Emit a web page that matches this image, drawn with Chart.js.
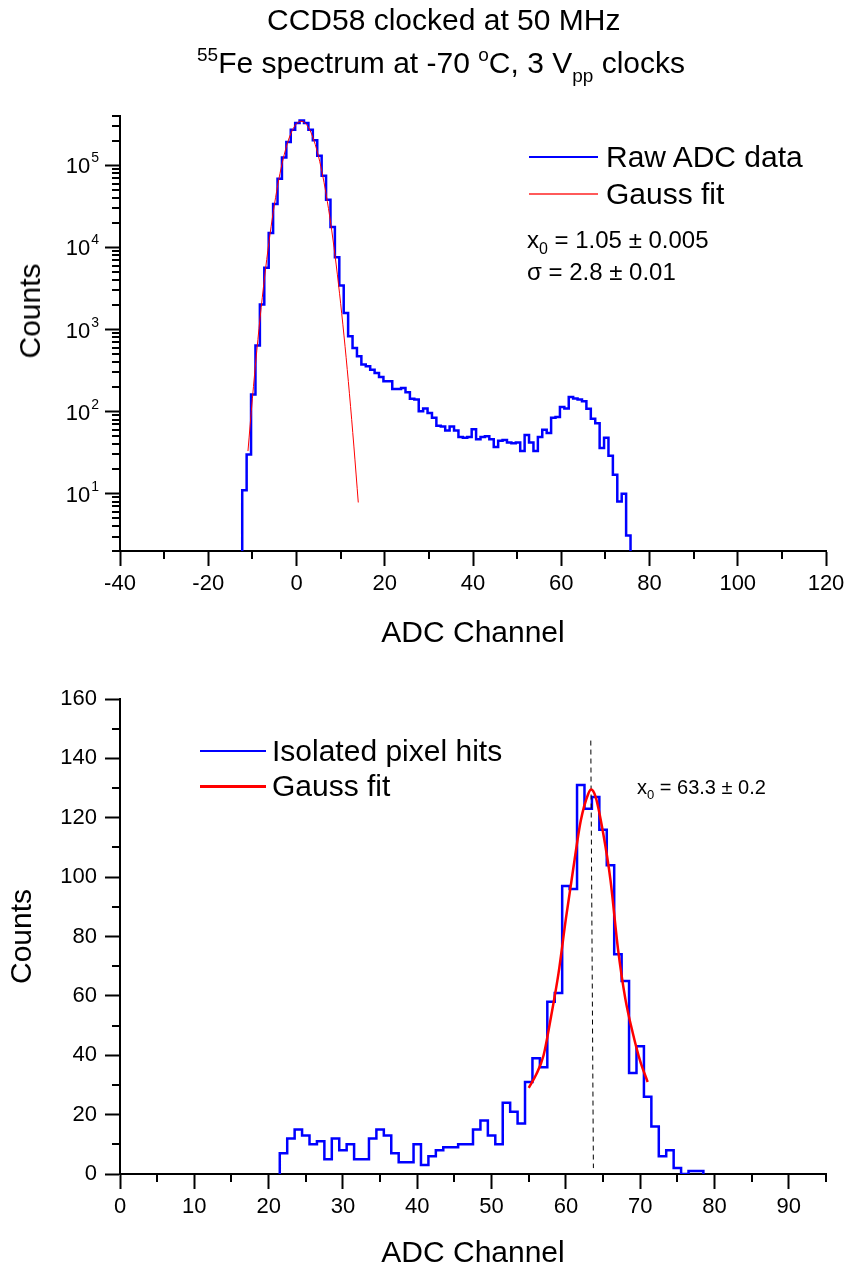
<!DOCTYPE html>
<html>
<head>
<meta charset="utf-8">
<script src="https://cdn.jsdelivr.net/npm/chart.js@4.4.1/dist/chart.umd.min.js"></script>
<style>
  body { margin: 0; background: #fff; }
  #wrap { position: relative; width: 851px; height: 1274px; background: #fff; overflow: hidden; }
  canvas { position: absolute; left: 0; }
  .t { position: absolute; white-space: nowrap; line-height: 1; color: #000;
       font-family: 'Liberation Sans', Arial, Helvetica, sans-serif; }
  .up { position: relative; }
  .ln { position: absolute; }
  .pin { position: absolute; width: 0; height: 0; }
  .rot { left: 0; top: 0; transform: translate(-50%, -50%) rotate(-90deg); }
</style>
</head>
<body>
<div id="wrap">
  <canvas id="topChart" width="851" height="660" style="top:0"></canvas>
  <canvas id="bottomChart" width="851" height="614" style="top:660px"></canvas>

  <div class="t" style="left:267px;top:5px;font-size:30px">CCD58 clocked at 50 MHz</div>
  <div class="t" style="left:197px;top:48px;font-size:30px"><span class="up" style="font-size:19px;top:-12px">55</span>Fe spectrum at -70 <span class="up" style="font-size:19px;top:-12px">o</span>C, 3 V<span class="up" style="font-size:19px;top:9px">pp</span> clocks</div>

  <div class="pin" style="left:30px;top:311px"><div class="t rot" style="font-size:30px">Counts</div></div>

  <div class="ln" style="left:529px;top:156px;width:69px;height:2px;background:#0000ff"></div>
  <div class="t" style="left:606px;top:142px;font-size:30px">Raw ADC data</div>
  <div class="ln" style="left:529px;top:193px;width:69px;height:2px;background:#ff5a5a"></div>
  <div class="t" style="left:606px;top:179px;font-size:30px">Gauss fit</div>
  <div class="t" style="left:527px;top:228px;font-size:24px">x<span class="up" style="font-size:16px;top:6px">0</span> = 1.05 ± 0.005</div>
  <div class="t" style="left:527px;top:260px;font-size:24px">σ = 2.8 ± 0.01</div>

  <div class="ln" style="left:200px;top:750px;width:66px;height:2px;background:#0000ff"></div>
  <div class="t" style="left:272px;top:736px;font-size:30px">Isolated pixel hits</div>
  <div class="ln" style="left:200px;top:785px;width:66px;height:3px;background:#ff0000"></div>
  <div class="t" style="left:272px;top:771px;font-size:30px">Gauss fit</div>
  <div class="t" style="left:637px;top:777px;font-size:20px">x<span class="up" style="font-size:13px;top:5px">0</span> = 63.3 ± 0.2</div>
</div>

<script>
// ---- top panel: raw ADC spectrum, 1-channel bins ----
const rawStart = -12.3; // left edge of first bin
const rawCounts = [
    11, 30, 162, 637, 2020, 5650, 15000, 33900, 68900, 125000,
    193000, 272000, 328000, 353000, 328000, 272000, 202000, 131000, 75000, 38200,
    17800, 7590, 3450, 1585, 826, 597, 472, 374, 357, 324,
    295, 264, 234, 234, 189, 189, 194, 172, 143, 140,
    101, 109, 96, 84, 67, 66, 59, 66, 59, 49,
    48, 49, 61, 46, 49, 50, 46, 37, 44, 45,
    42, 41, 42, 33, 52, 42, 33, 49, 60, 55,
    84, 86, 114, 109, 151, 144, 140, 134, 108, 82,
    72, 36, 48, 29, 17, 8, 10, 3.1
];
const topFitX = [-11, -10, -9, -8, -7, -6, -5, -4, -3, -2, -1, 0, 1, 2, 3, 4, 5, 6, 7, 8, 9, 10, 11, 12, 13, 14];
const topFitY = [33, 143, 550, 1860, 5530, 14500, 33400, 67900, 121000, 191000, 264000, 322000, 345000,
    326000, 271000, 198000, 128000, 72300, 36100, 15900, 6120, 2090, 625, 165, 38, 7.8];
const topXTicks = [-40, -20, 0, 20, 40, 60, 80, 100, 120];
const topXMinor = [-30, -10, 10, 30, 50, 70, 90, 110];
const topYDecades = [1, 2, 3, 4, 5];
const topYMantissa = [2, 3, 4, 5, 6, 7, 8, 9];

// ---- bottom panel: isolated pixel hits ----
const hitsStart = 21.5;
const hitsCounts = [
    7, 12, 15, 13, 10, 11, 5, 12, 8, 10,
    5, 5, 12, 15, 13, 7, 4, 4, 10, 3,
    6, 8, 9, 9, 10, 10, 15, 18, 13, 10,
    24, 21, 17, 31, 39, 36, 58, 61, 97, 96,
    131, 123, 127, 116, 104, 74, 65, 34, 43, 26,
    16, 6, 8, 2, 0, 1, 1
];
const botFitX = [55, 56, 57, 58, 59, 60, 61, 62, 63, 63.4, 64, 65, 66, 67, 68, 69, 70, 71];
const botFitY = [29, 33.5, 40, 53, 67.5, 86, 103, 119, 128, 129.5, 127, 115, 99, 76, 59, 47.5, 38, 31];
const peakLineX = [63.35, 63.7];
const peakLineY = [146, 2];
const botXTicks = [0, 10, 20, 30, 40, 50, 60, 70, 80, 90];
const botXMinor = [5, 15, 25, 35, 45, 55, 65, 75, 85, 95];
const botYTicks = [0, 20, 40, 60, 80, 100, 120, 140, 160];
const botYMinor = [10, 30, 50, 70, 90, 110, 130, 150];

const FONT = "'Liberation Sans', Arial, Helvetica, sans-serif";

function stepPoints(start, counts, base) {
    const pts = [{ x: start, y: base }];
    counts.forEach((c, i) => pts.push({ x: start + i, y: c }));
    pts.push({ x: start + counts.length, y: base });
    return pts;
}
function zip(xs, ys) {
    return xs.map((x, i) => ({ x: x, y: ys[i] }));
}
function fixTicks(values) {
    return scale => { scale.ticks = values.map(v => ({ value: v })); };
}

// short ticks between the labelled ones
const minorTicks = {
    id: 'minorTicks',
    afterDraw(chart, args, opts) {
        const ctx = chart.ctx;
        const xs = chart.scales.x, ys = chart.scales.y;
        ctx.save();
        ctx.strokeStyle = '#000';
        ctx.lineWidth = 2;
        ctx.beginPath();
        (opts.x || []).forEach(v => {
            const px = Math.round(xs.getPixelForValue(v));
            ctx.moveTo(px, xs.top);
            ctx.lineTo(px, xs.top + 8);
        });
        (opts.y || []).forEach(v => {
            const py = Math.round(ys.getPixelForValue(v));
            ctx.moveTo(ys.right, py);
            ctx.lineTo(ys.right - 8, py);
        });
        ctx.stroke();
        ctx.restore();
    }
};

// 10^n labels for the log axis
const powerLabels = {
    id: 'powerLabels',
    afterDraw(chart) {
        const ctx = chart.ctx;
        const ys = chart.scales.y;
        const right = ys.right - 15 - 6;
        ctx.save();
        ctx.fillStyle = '#000';
        ctx.textAlign = 'right';
        ctx.textBaseline = 'alphabetic';
        topYDecades.forEach(n => {
            const py = ys.getPixelForValue(Math.pow(10, n));
            ctx.font = '14px ' + FONT;
            const ew = ctx.measureText(String(n)).width;
            ctx.fillText(String(n), right, py - 3);
            ctx.font = '22px ' + FONT;
            ctx.fillText('10', right - ew - 1, py + 8);
        });
        ctx.restore();
    }
};

function axisStyle(extra, pad) {
    return Object.assign({
        grid: { drawOnChartArea: false, drawTicks: true, tickLength: 15, tickWidth: 2, tickColor: '#000' },
        border: { display: true, color: '#000', width: 2 },
        ticks: { color: '#000', font: { family: FONT, size: 22 }, padding: pad, maxRotation: 0, autoSkip: false, includeBounds: false }
    }, extra);
}

const topMinorY = [];
[0].concat(topYDecades).forEach(n => {
    topYMantissa.forEach(m => {
        const v = m * Math.pow(10, n);
        if (v >= 2 && v <= 400000) topMinorY.push(v);
    });
});

new Chart(document.getElementById('topChart'), {
    type: 'line',
    data: {
        datasets: [{
            label: 'Gauss fit',
            data: zip(topFitX, topFitY),
            borderColor: '#ff0000',
            borderWidth: 1,
            pointRadius: 0,
            cubicInterpolationMode: 'monotone',
            order: 0
        }, {
            label: 'Raw ADC data',
            data: stepPoints(rawStart, rawCounts, 1),
            borderColor: '#0000ff',
            borderWidth: 2.5,
            pointRadius: 0,
            stepped: true,
            order: 1
        }]
    },
    options: {
        responsive: false,
        animation: false,
        devicePixelRatio: 1,
        layout: { padding: { left: 13, right: 25, top: 116, bottom: 8 } },
        plugins: {
            legend: { display: false },
            tooltip: { enabled: false },
            minorTicks: { x: topXMinor, y: topMinorY }
        },
        scales: {
            x: axisStyle({
                type: 'linear', min: -40, max: 120,
                afterBuildTicks: fixTicks(topXTicks),
                afterFit: s => { s.height = 101; },
                title: { display: true, text: 'ADC Channel', color: '#000', font: { family: FONT, size: 30 }, padding: 0 }
            }, 5),
            y: axisStyle({
                type: 'logarithmic', min: 2, max: 400000,
                afterBuildTicks: fixTicks(topYDecades.map(n => Math.pow(10, n))),
                afterFit: s => { s.width = 107; },
                ticks: { callback: () => '' },
                title: { display: false }
            }, 8)
        }
    },
    plugins: [minorTicks, powerLabels]
});

new Chart(document.getElementById('bottomChart'), {
    type: 'line',
    data: {
        datasets: [{
            label: 'Gauss fit',
            data: zip(botFitX, botFitY),
            borderColor: '#ff0000',
            borderWidth: 2.5,
            pointRadius: 0,
            cubicInterpolationMode: 'monotone',
            order: 0
        }, {
            label: 'x0',
            data: zip(peakLineX, peakLineY),
            borderColor: '#000',
            borderWidth: 1,
            borderDash: [5, 4],
            pointRadius: 0,
            order: 1
        }, {
            label: 'Isolated pixel hits',
            data: stepPoints(hitsStart, hitsCounts, 0),
            borderColor: '#0000ff',
            borderWidth: 2.5,
            pointRadius: 0,
            stepped: true,
            order: 2
        }]
    },
    options: {
        responsive: false,
        animation: false,
        devicePixelRatio: 1,
        layout: { padding: { left: 5, right: 25, top: 39, bottom: 2 } },
        plugins: {
            legend: { display: false },
            tooltip: { enabled: false },
            minorTicks: { x: botXMinor, y: botYMinor }
        },
        scales: {
            x: axisStyle({
                type: 'linear', min: 0, max: 95,
                afterBuildTicks: fixTicks(botXTicks),
                afterFit: s => { s.height = 98; },
                title: { display: true, text: 'ADC Channel', color: '#000', font: { family: FONT, size: 30 }, padding: 0 }
            }, 5),
            y: axisStyle({
                type: 'linear', min: 0, max: 160,
                afterBuildTicks: fixTicks(botYTicks),
                afterFit: s => { s.width = 115; },
                title: { display: true, text: 'Counts', color: '#000', font: { family: FONT, size: 30 }, padding: 0 }
            }, 8)
        }
    },
    plugins: [minorTicks]
});
</script>
</body>
</html>
